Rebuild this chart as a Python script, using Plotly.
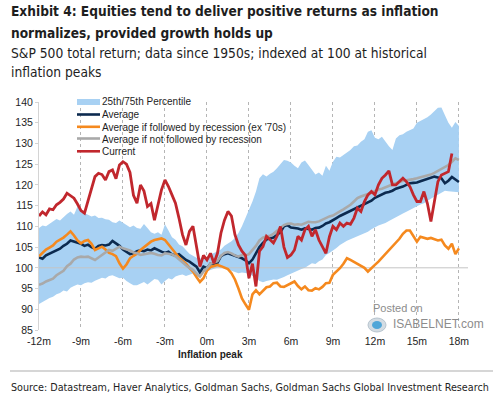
import plotly.graph_objects as go

# ---------------- data ----------------
MONTHS = [-12 + 0.25 * i for i in range(121)]  # months around the inflation peak

X_TICKS = [-12, -9, -6, -3, 0, 3, 6, 9, 12, 15, 18]
X_TICK_LABELS = ["-12m", "-9m", "-6m", "-3m", "0m", "3m", "6m", "9m", "12m", "15m", "18m"]
Y_TICKS = [85, 90, 95, 100, 105, 110, 115, 120, 125, 130, 135, 140]

PCT75 = [
    109.6, 110.2, 110.0, 110.6, 111.2, 111.8, 111.4, 112.3,
    113.0, 113.6, 112.8, 114.8, 113.4, 113.2, 112.8, 112.4,
    112.6, 112.0, 112.1, 111.7, 111.6, 111.0, 110.8, 111.4,
    110.9, 110.4, 109.8, 110.2, 109.6, 109.4, 110.6, 109.6,
    108.6, 108.2, 108.6, 108.0, 110.5, 109.0, 107.4, 106.8,
    105.6, 105.2, 104.2, 103.4, 102.9, 102.4, 102.2, 102.8,
    102.6, 103.3, 103.6, 104.0, 104.4, 105.3, 105.8, 106.4,
    107.2, 108.4, 110.0, 112.0, 113.6, 116.0, 118.4, 121.6,
    122.6, 122.0, 122.7, 123.2, 124.0, 125.0, 126.0, 125.8,
    125.4, 124.6, 124.0, 125.4, 125.9, 124.8, 123.6, 122.5,
    123.0, 122.2, 124.6, 123.4, 125.6, 126.8, 126.6, 127.2,
    127.7, 128.4, 129.3, 129.5, 130.4, 131.0, 132.8, 133.2,
    131.4, 131.0, 131.6, 130.4, 129.3, 128.4, 131.2, 132.0,
    132.2, 132.8, 133.2, 133.6, 135.0, 135.4, 136.0, 136.3,
    137.0, 137.8, 138.6, 138.7, 136.8, 135.0, 133.8, 135.2,
    134.2,
]

PCT25 = [
    91.3, 91.8, 92.2, 92.7, 93.0, 93.6, 93.9, 94.5,
    94.3, 95.2, 95.6, 96.0, 95.8, 96.3, 96.5, 96.4,
    96.9, 97.2, 97.6, 97.4, 98.0, 98.2, 97.9, 97.5,
    97.6, 96.8, 96.3, 95.8, 95.8, 96.2, 96.6, 96.0,
    96.6, 97.3, 97.1, 96.0, 96.8, 97.5, 97.2, 97.9,
    98.2, 98.4, 98.0, 98.3, 98.6, 97.6, 98.4, 98.9,
    99.2, 99.6, 99.8, 100.0, 100.2, 99.9, 99.6, 99.2,
    99.0, 98.7, 98.9, 98.8, 98.6, 98.0, 97.6, 96.8,
    96.5, 96.8, 97.0, 97.2, 97.1, 97.4, 97.8, 98.2,
    98.6, 98.9, 99.4, 99.7, 100.0, 100.6, 101.1, 100.9,
    101.6, 102.0, 103.1, 103.6, 104.1, 104.8, 105.5, 106.1,
    106.5, 106.9, 107.3, 107.5, 108.0, 108.4, 108.7, 109.3,
    109.8, 110.2, 110.5, 110.8, 111.3, 111.8, 112.3, 112.6,
    113.1, 113.5, 114.0, 114.5, 115.0, 115.3, 115.6, 116.2,
    116.8, 117.2, 117.6, 118.2, 118.6, 118.5, 118.4, 118.3,
    118.2,
]

AVERAGE = [
    102.5, 102.2, 103.0, 103.4, 104.0, 104.3, 104.6, 105.3,
    105.8, 106.6, 106.3, 106.0, 105.8, 105.3, 105.6, 105.0,
    104.6, 105.3, 105.5, 105.4, 105.6, 106.5, 106.0, 105.3,
    104.4, 103.8, 103.3, 103.5, 104.0, 104.2, 104.0, 104.4,
    104.2, 104.7, 104.2, 103.9, 103.6, 103.9, 103.2, 103.0,
    103.3, 102.5, 101.9, 101.5, 101.0, 100.3, 98.9, 100.3,
    99.9, 101.0, 100.8, 101.2, 102.8, 103.3, 103.5, 103.1,
    102.9, 102.6, 102.3, 101.8, 101.1, 102.0, 103.6, 105.0,
    106.0, 106.8, 107.1, 107.3, 107.9, 108.6, 110.0, 110.3,
    109.7, 109.6, 109.5, 109.2, 109.5, 109.4, 109.2, 109.6,
    109.7, 110.1, 110.7, 111.0, 111.4, 112.0, 112.5, 112.9,
    113.2, 113.6, 114.0, 114.4, 114.9, 115.3, 115.7, 116.2,
    116.9, 117.3, 117.8, 118.1, 118.3, 118.6, 119.1, 119.3,
    119.6, 120.0, 120.4, 120.5, 120.6, 120.9, 121.2, 121.5,
    121.7, 122.0, 121.8, 121.6, 120.4, 121.0, 121.9, 121.2,
    120.7,
]

AVG_RECESSION = [
    102.8, 103.6, 104.4, 104.9, 105.4, 106.3, 106.7, 107.3,
    108.0, 108.8, 107.8, 106.6, 105.9, 106.5, 106.7, 105.8,
    104.3, 104.8, 105.1, 104.4, 103.6, 103.3, 102.8, 101.1,
    99.8, 100.8, 102.3, 102.9, 103.4, 104.3, 105.0, 105.6,
    106.3, 106.7, 106.9, 107.1, 106.7, 105.6, 104.6, 103.4,
    102.5, 101.7, 101.0, 100.0, 99.1, 97.8, 96.6, 97.5,
    99.3, 100.2, 100.5, 100.7, 100.4, 100.1, 99.7, 98.7,
    97.2, 95.0, 92.6, 91.2, 89.9, 93.6, 94.6, 93.6,
    94.5, 95.3, 95.5, 96.3, 96.4, 95.5, 95.4, 95.9,
    96.3, 96.7, 95.6, 94.8, 95.5, 94.6, 94.5, 95.1,
    94.8, 95.4, 96.3, 96.4, 98.3, 99.1, 99.9, 101.0,
    102.3, 101.9, 101.4, 101.1, 100.6, 100.0, 99.1, 99.8,
    100.7, 101.5, 102.4, 103.2, 104.3, 105.0, 105.9, 107.0,
    108.2, 109.0, 109.0, 107.7, 106.3, 107.5, 107.3, 107.0,
    107.2, 106.9, 106.6, 106.8, 105.4, 104.6, 105.8, 103.3,
    104.7,
]

AVG_NO_RECESSION = [
    95.9, 96.2, 96.7, 97.0, 97.4, 98.2, 98.8, 99.3,
    100.4, 101.0, 102.0, 102.5, 102.7, 102.6, 102.7, 102.3,
    101.9, 102.5, 103.1, 103.6, 104.3, 104.1, 104.6, 105.1,
    104.7, 104.5, 104.2, 103.7, 103.5, 103.1, 103.3, 103.5,
    103.6, 103.4, 103.1, 103.0, 103.5, 103.4, 103.2, 102.8,
    102.0, 101.2, 100.6, 100.0, 99.5, 98.6, 97.9, 99.1,
    99.9, 101.0, 101.3, 101.6, 102.9, 103.6, 103.8, 103.5,
    103.0, 102.7, 103.1, 103.0, 103.3, 104.2, 105.3, 106.6,
    107.3, 107.6, 107.7, 108.2, 108.9, 109.7, 110.3, 110.6,
    110.7, 110.4, 110.5, 110.4, 110.8, 111.1, 111.0, 111.0,
    111.2, 111.6, 112.1, 112.4, 112.6, 113.0, 113.6, 114.1,
    114.6, 115.2, 116.0, 116.8, 117.2, 117.6, 117.8, 118.1,
    118.6, 118.9, 119.1, 119.5, 119.9, 120.1, 120.4, 120.7,
    121.0, 121.1, 121.2, 121.4, 121.6, 121.8, 122.0, 122.3,
    122.5, 122.9, 123.4, 123.8, 124.2, 124.8, 125.6, 126.4,
    126.0,
]

CURRENT = [
    112.5, 113.5, 112.8, 114.2, 114.0, 115.2, 115.8, 116.6,
    118.0, 117.4, 116.8, 115.4, 113.8, 113.2, 116.0, 119.0,
    122.0, 122.8, 122.5, 121.2, 123.2, 123.6, 121.5, 124.8,
    125.6, 125.0, 123.0, 117.5, 115.6, 120.0, 118.5, 114.8,
    115.5, 111.5, 114.8, 118.8, 121.2, 119.6, 117.6, 115.6,
    112.0, 108.0, 105.5, 108.8, 110.0, 105.5, 100.3, 103.0,
    101.9, 103.5, 101.1, 103.5, 108.4, 111.5, 113.6, 112.5,
    108.0, 105.5, 104.0, 103.0, 97.5, 101.0, 95.5, 104.0,
    105.1, 107.6, 106.7, 106.0, 107.6, 110.0, 105.0, 102.5,
    103.1, 104.3, 107.6, 106.7, 109.2, 110.0, 107.6, 109.2,
    106.7, 105.1, 103.5, 107.5, 110.0, 109.2, 110.8, 110.0,
    110.8, 110.5, 112.0, 114.4, 113.6, 116.0, 117.6, 118.4,
    117.6, 120.0, 121.6, 122.4, 123.4, 120.0, 120.0, 120.8,
    121.6, 120.8, 119.6, 117.6, 116.0, 116.0, 118.4, 115.5,
    111.2, 116.0, 120.8, 122.4, 122.8, 123.2, 127.6,
]

BASE_LEVEL = 100
X_RANGE = [-12, 18.65]
Y_RANGE = [85, 140]

LEGEND_NAMES = [
    "25th/75th Percentile",
    "Average",
    "Average if followed by recession (ex '70s)",
    "Average if not followed by recession",
    "Current",
]

# ---------------- styling ----------------
BAND_COLOR = "#a8d1f3"
NAVY = "#0c2a4f"
ORANGE = "#f5891e"
GREY = "#a9a9a9"
RED = "#c1272d"
TEXT = "#1e1e1e"
SANS = "Liberation Sans, Arial, sans-serif"
NARROW = "DejaVu Sans Condensed, Liberation Sans Narrow, Arial Narrow, sans-serif"

W, H = 500, 395
L, R, T, B = 39, 32, 102, 65
PW, PH = W - L - R, H - T - B


def fx(px):
    return (px - L) / PW


def fy(py):
    return (H - B - py) / PH


fig = go.Figure()

# percentile band
fig.add_trace(go.Scatter(x=MONTHS, y=PCT25, mode="lines", line=dict(width=0),
                         hoverinfo="skip", showlegend=False))
fig.add_trace(go.Scatter(x=MONTHS, y=PCT75, mode="lines", line=dict(width=0),
                         fill="tonexty", fillcolor=BAND_COLOR, showlegend=False))
# reference level at 100
fig.add_trace(go.Scatter(x=X_RANGE, y=[BASE_LEVEL, BASE_LEVEL], mode="lines",
                         line=dict(color="#c4c4c4", width=1), showlegend=False,
                         hoverinfo="skip"))

fig.add_trace(go.Scatter(x=MONTHS[:len(AVERAGE)], y=AVERAGE, mode="lines",
                         line=dict(color=NAVY, width=2.6), showlegend=False))
fig.add_trace(go.Scatter(x=MONTHS[:len(AVG_RECESSION)], y=AVG_RECESSION, mode="lines",
                         line=dict(color=ORANGE, width=2.6), showlegend=False))
fig.add_trace(go.Scatter(x=MONTHS[:len(AVG_NO_RECESSION)], y=AVG_NO_RECESSION, mode="lines",
                         line=dict(color=GREY, width=2.6), showlegend=False))
fig.add_trace(go.Scatter(x=MONTHS[:len(CURRENT)], y=CURRENT, mode="lines",
                         line=dict(color=RED, width=2.8), showlegend=False))

annotations = []
shapes = []


def text(s, x, y, size, family=SANS, color=TEXT, xanchor="left"):
    annotations.append(dict(text=s, x=fx(x), y=fy(y), xref="paper", yref="paper",
                            xanchor=xanchor, yanchor="middle", showarrow=False,
                            font=dict(family=family, size=size, color=color)))


# title block
text("<b>Exhibit 4: Equities tend to deliver positive returns as inflation</b>", 9, 11, 13.6, NARROW)
text("<b>normalizes, provided growth holds up</b>", 9, 33, 13.6, NARROW)
text("S&P 500 total return; data since 1950s; indexed at 100 at historical", 9, 53, 13.7, NARROW)
text("inflation peaks", 9, 72, 13.7, NARROW)

# legend (drawn manually to match compact spacing)
swatch_rows = [102, 114.5, 126.8, 138.5, 151.3]
text_rows = [101.5, 114.5, 127, 139, 151.5]
legend_colors = [BAND_COLOR, NAVY, ORANGE, GREY, RED]
for i, (name, col, ys, yt) in enumerate(zip(LEGEND_NAMES, legend_colors, swatch_rows, text_rows)):
    if i == 0:
        shapes.append(dict(type="rect", xref="paper", yref="paper", x0=fx(77), x1=fx(100),
                           y0=fy(ys - 3), y1=fy(ys + 3), fillcolor=col, line=dict(width=0)))
    else:
        shapes.append(dict(type="line", xref="paper", yref="paper", x0=fx(77), x1=fx(100),
                           y0=fy(ys), y1=fy(ys), line=dict(color=col, width=2.6)))
    text(name, 99.5, yt, 10)

# axis caption
text("<b>Inflation peak</b>", 210, 354, 10, xanchor="center")

# watermark
shapes.append(dict(type="circle", xref="paper", yref="paper", x0=fx(368), x1=fx(386),
                   y0=fy(332), y1=fy(318), fillcolor="#d3dce3", line=dict(color="#b7c4ce", width=1)))
shapes.append(dict(type="circle", xref="paper", yref="paper", x0=fx(372), x1=fx(382),
                   y0=fy(329), y1=fy(321), fillcolor="#4fa6d8", line=dict(width=0)))
text("Posted on", 370.5, 308, 11, color="#8c8c8c")
text("ISABELNET.com", 390.5, 323.5, 12, color="#8c8c8c")

# source
shapes.append(dict(type="line", xref="paper", yref="paper", x0=fx(10), x1=fx(493),
                   y0=fy(371), y1=fy(371), line=dict(color="#c8c8c8", width=1.5)))
text("Source: Datastream, Haver Analytics, Goldman Sachs, Goldman Sachs Global Investment Research",
     9, 387, 10.7, NARROW)

fig.update_layout(
    width=W, height=H, autosize=False,
    margin=dict(l=L, r=R, t=T, b=B, pad=0),
    paper_bgcolor="white", plot_bgcolor="white",
    showlegend=False,
    annotations=annotations, shapes=shapes,
    font=dict(family=SANS, size=10, color=TEXT),
    xaxis=dict(range=X_RANGE, tickmode="array", tickvals=X_TICKS, ticktext=X_TICK_LABELS,
               showgrid=True, gridcolor="#b5b5b5", griddash="dot", gridwidth=1,
               zeroline=False, showline=False, ticks="", ticklabelstandoff=3,
               tickfont=dict(family=SANS, size=10.5, color=TEXT)),
    yaxis=dict(range=Y_RANGE, tickmode="array", tickvals=Y_TICKS,
               showgrid=False, zeroline=False, showline=True, linecolor="#d4d4d4", linewidth=1,
               ticks="outside", ticklen=3, tickcolor="#d4d4d4",
               tickfont=dict(family=SANS, size=10.5, color=TEXT)),
)

fig.write_html("out.html", config={"displayModeBar": False},
               post_script="document.body.style.margin='0';")
